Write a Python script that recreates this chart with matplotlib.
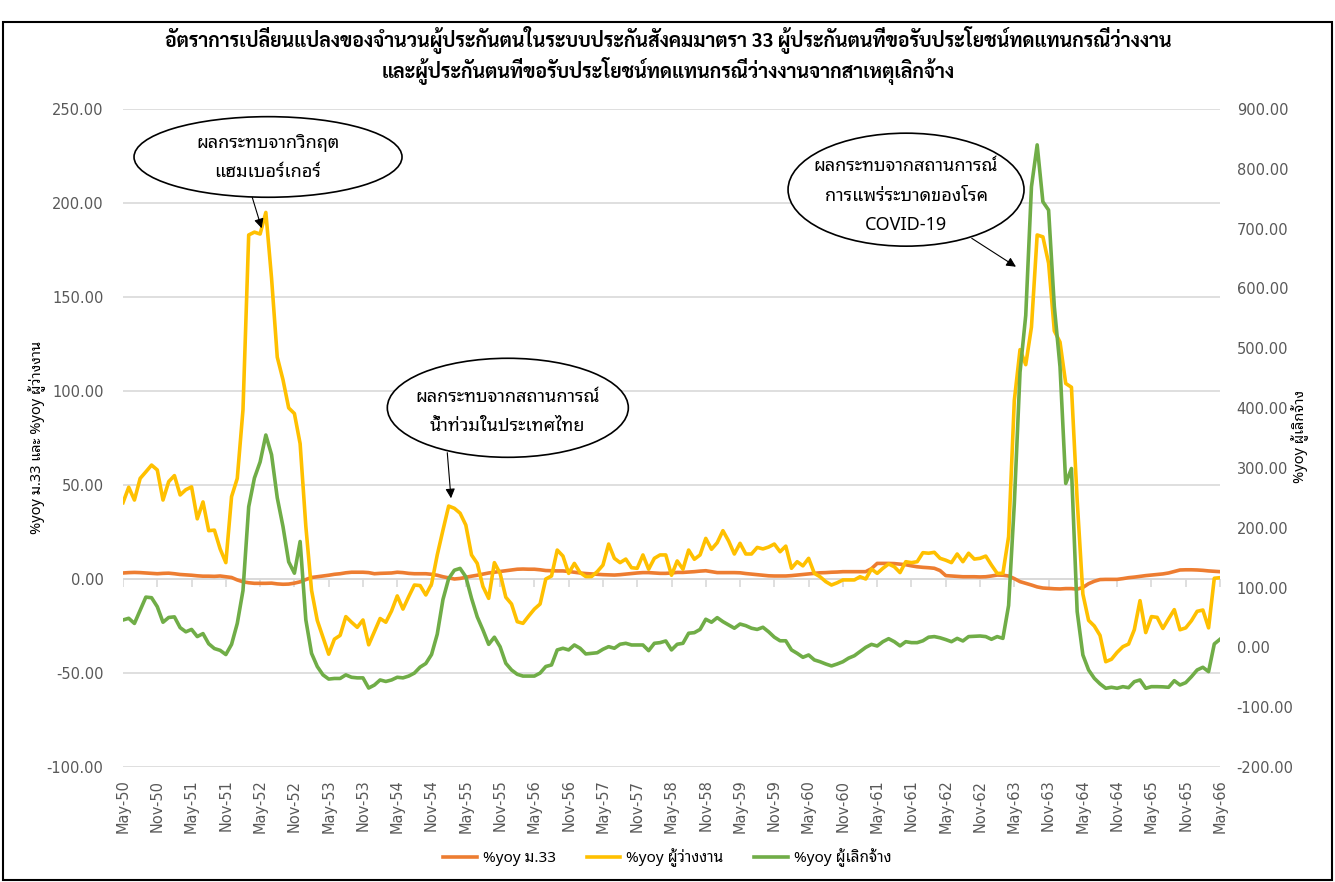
import matplotlib
matplotlib.use("Agg")
import numpy as np
import matplotlib.pyplot as plt
from matplotlib import font_manager as fm
from matplotlib.patches import Ellipse, Rectangle

# ---------------- fonts ----------------
installed = {f.name for f in fm.fontManager.ttflist}

def pick(cands):
    for c in cands:
        if c in installed:
            return c
    return "DejaVu Sans"

thai_font = pick(["Noto Sans Thai Looped", "Noto Sans Thai", "Sarabun", "Anuphan"])
title_font = pick(["Sarabun", "Noto Sans Thai Looped", "Noto Sans Thai", "Anuphan"])
THAI = [thai_font, "DejaVu Sans"]
TITLE = [title_font, "DejaVu Sans"]

# ---------------- data (monthly, May-50 .. May-66) ----------------
tick_labels = ["May-50", "Nov-50", "May-51", "Nov-51", "May-52", "Nov-52", "May-53", "Nov-53",
               "May-54", "Nov-54", "May-55", "Nov-55", "May-56", "Nov-56", "May-57", "Nov-57",
               "May-58", "Nov-58", "May-59", "Nov-59", "May-60", "Nov-60", "May-61", "Nov-61",
               "May-62", "Nov-62", "May-63", "Nov-63", "May-64", "Nov-64", "May-65", "Nov-65",
               "May-66"]

# %yoy ม.33 (left axis)
yoy_m33 = [
    3.2, 3.4, 3.5, 3.4, 3.2, 3.0, 2.8, 3.0, 3.1, 2.8, 2.4, 2.2,
    2.0, 1.7, 1.5, 1.5, 1.4, 1.6, 1.2, 0.8, -0.5, -1.5, -2.0, -2.3,
    -2.3, -2.3, -2.2, -2.6, -2.8, -2.7, -2.2, -1.5, -0.3, 0.8, 1.2, 1.6,
    2.0, 2.5, 2.8, 3.3, 3.6, 3.6, 3.6, 3.4, 2.8, 3.0, 3.1, 3.2,
    3.6, 3.4, 3.0, 2.8, 2.8, 2.8, 2.5, 2.0, 1.2, 0.6, 0.0, 0.3,
    0.9, 1.5, 2.0, 2.6, 3.2, 3.6, 4.0, 4.4, 4.8, 5.2, 5.3, 5.2,
    5.2, 4.9, 4.5, 4.4, 4.3, 4.3, 4.0, 3.6, 3.2, 2.9, 2.7, 2.5,
    2.3, 2.2, 2.1, 2.3, 2.6, 2.9, 3.2, 3.4, 3.4, 3.2, 3.0, 3.0,
    3.2, 3.5, 3.5, 3.7, 3.9, 4.2, 4.4, 3.9, 3.4, 3.4, 3.4, 3.4,
    3.3, 2.9, 2.6, 2.3, 2.0, 1.7, 1.6, 1.6, 1.6, 1.8, 2.1, 2.4,
    2.7, 3.0, 3.3, 3.4, 3.6, 3.7, 3.9, 3.9, 3.9, 3.9, 3.9, 5.5,
    8.3, 8.3, 8.3, 8.2, 7.9, 7.6, 7.0, 6.5, 6.2, 6.0, 5.7, 4.5,
    1.8, 1.6, 1.4, 1.2, 1.2, 1.2, 1.1, 1.2, 1.6, 2.1, 2.0, 1.6,
    0.2, -1.4, -2.3, -3.2, -4.2, -4.8, -5.0, -5.2, -5.3, -5.1, -5.1, -5.4,
    -4.5, -2.5, -1.2, -0.3, -0.2, -0.2, -0.2, 0.2, 0.7, 1.0, 1.4, 1.8,
    2.1, 2.4, 2.7, 3.2, 4.0, 4.8, 4.9, 4.9, 4.8, 4.6, 4.3, 4.1,
    3.9,
]

# %yoy ผู้ว่างงาน (left axis)
yoy_unemp = [
    40.6, 48.8, 42.0, 53.5, 57.0, 60.6, 58.0, 42.0, 51.8, 55.0, 44.7, 47.5,
    49.0, 32.0, 41.0, 25.7, 26.0, 16.0, 8.7, 43.8, 53.5, 90.0, 183.0, 184.5,
    183.5, 195.0, 160.0, 118.0, 106.0, 91.0, 88.0, 72.0, 28.0, -6.0, -22.0, -31.0,
    -40.0, -32.0, -30.0, -20.0, -23.0, -25.7, -21.8, -35.0, -28.0, -21.0, -23.0, -17.0,
    -9.0, -16.0, -9.4, -3.2, -3.5, -8.5, -2.7, 12.8, 26.0, 38.8, 37.6, 35.0,
    28.7, 12.8, 8.3, -4.0, -10.3, 8.7, 3.0, -9.7, -13.3, -22.7, -23.6, -19.7,
    -16.0, -13.3, 0.0, 1.6, 15.4, 12.2, 3.0, 8.3, 3.4, 1.3, 1.3, 3.9,
    7.4, 18.6, 11.0, 8.7, 10.6, 6.0, 5.7, 12.8, 5.2, 11.0, 12.8, 12.8,
    2.0, 9.6, 5.2, 15.4, 10.5, 12.8, 21.6, 15.8, 19.3, 25.7, 20.2, 13.3,
    19.0, 13.3, 13.3, 16.8, 16.0, 17.0, 18.6, 14.5, 17.5, 5.7, 9.2, 7.0,
    11.0, 3.0, 1.2, -1.4, -3.2, -2.0, -0.5, -0.5, -0.5, 1.2, 0.0, 5.3,
    3.0, 5.7, 8.0, 6.5, 3.4, 9.2, 8.7, 9.2, 14.0, 13.7, 14.2, 11.0,
    10.0, 8.7, 13.3, 9.2, 13.7, 10.6, 11.0, 12.2, 7.4, 3.0, 3.0, 22.5,
    95.0, 122.0, 114.0, 134.0, 183.0, 182.0, 168.0, 132.0, 126.0, 104.0, 102.0, 42.0,
    -8.0, -22.0, -25.0, -30.0, -44.0, -42.7, -39.0, -36.0, -34.6, -27.0, -11.5, -28.5,
    -20.0, -20.4, -26.3, -21.2, -16.3, -27.0, -26.0, -22.2, -17.2, -16.5, -26.0, 0.4,
    0.7,
]

# %yoy ผู้เลิกจ้าง (right axis)
yoy_layoff = [
    45.8, 48.6, 40.0, 62.0, 84.0, 83.0, 68.0, 42.0, 50.0, 51.0, 33.0, 26.0,
    30.0, 18.0, 23.0, 6.0, -2.0, -5.0, -12.0, 5.0, 40.0, 95.0, 235.0, 283.0,
    310.0, 355.0, 322.0, 250.0, 202.0, 143.0, 124.0, 177.0, 46.0, -10.0, -32.0, -46.0,
    -53.0, -52.0, -52.0, -46.0, -50.0, -51.0, -51.0, -68.0, -63.0, -54.5, -57.0, -54.5,
    -50.0, -51.0, -48.0, -43.0, -33.0, -27.0, -12.0, 22.0, 80.0, 115.0, 129.0, 132.0,
    118.0, 82.0, 51.0, 29.0, 5.0, 17.0, 1.0, -26.6, -37.8, -45.0, -48.0, -48.0,
    -48.0, -43.0, -32.0, -29.4, -4.3, -1.5, -4.3, 4.0, -1.5, -11.0, -10.0, -9.0,
    -3.2, 1.2, -1.5, 5.2, 6.8, 4.0, 4.0, 4.0, -5.5, 6.8, 7.9, 10.7,
    -4.3, 5.2, 6.8, 23.6, 24.6, 30.0, 47.0, 42.0, 49.7, 43.0, 37.5, 32.0,
    39.0, 36.3, 32.0, 30.0, 33.6, 26.0, 17.0, 11.0, 11.0, -4.3, -10.0, -16.6,
    -12.7, -21.0, -24.0, -27.8, -31.0, -27.8, -24.0, -18.0, -14.0, -7.0, 0.0, 5.0,
    2.3, 9.5, 14.5, 9.5, 2.5, 9.5, 7.9, 7.9, 11.0, 17.0, 18.0, 16.0,
    13.0, 9.5, 15.0, 10.7, 18.0, 18.5, 19.0, 18.0, 13.5, 18.0, 15.0, 70.0,
    240.0, 460.0, 555.0, 770.0, 840.0, 745.0, 731.0, 570.0, 469.0, 274.0, 299.0, 60.0,
    -12.7, -37.8, -51.7, -61.0, -68.4, -66.7, -68.4, -65.7, -67.4, -57.4, -54.5, -68.4,
    -65.7, -65.7, -66.0, -66.7, -55.7, -62.9, -59.0, -49.0, -37.8, -33.3, -40.6, 5.7,
    13.5,
]

c_m33 = "#ED7D31"
c_unemp = "#FFC000"
c_layoff = "#70AD47"
grey_txt = "#595959"
grid_c = "#D9D9D9"

months = np.arange(len(yoy_m33))
tick_pos = months[::6]

# ---------------- figure ----------------
fig = plt.figure(figsize=(13.35, 8.82), dpi=100)
ax = fig.add_axes([123 / 1335, 1 - 767 / 882, 1097 / 1335, 658 / 882])
ax2 = ax.twinx()

ax.set_ylim(-100, 250)
ax.set_yticks(np.arange(-100, 251, 50))
ax.set_yticklabels([f"{v:.2f}" for v in np.arange(-100, 251, 50)])
ax2.set_ylim(-200, 900)
ax2.set_yticks(np.arange(-200, 901, 100))
ax2.set_yticklabels([f"{v:.2f}" for v in np.arange(-200, 901, 100)])
ax.set_xlim(months[0], months[-1])
ax.set_xticks(tick_pos)
ax.set_xticklabels(tick_labels, rotation=90)

for a in (ax, ax2):
    for s in a.spines.values():
        s.set_visible(False)
ax.grid(axis="y", color=grid_c, lw=1.2)
ax.set_axisbelow(True)
ax.tick_params(axis="y", length=0, pad=14, labelsize=10.5, labelcolor=grey_txt)
ax2.tick_params(axis="y", length=0, pad=12, labelsize=10.5, labelcolor=grey_txt)
ax.tick_params(axis="x", length=0, pad=9, labelsize=10.5, labelcolor=grey_txt)

# horizontal axis line at zero with small tick marks
ax.axhline(0, color=grid_c, lw=1.2, zorder=1)
ax.plot(tick_pos, np.zeros(len(tick_pos)), ls="none", marker=3, ms=6, mew=1.2,
        color=grid_c, zorder=1)

l1, = ax.plot(months, yoy_m33, color=c_m33, lw=2.6, label="%yoy ม.33", zorder=3)
l2, = ax.plot(months, yoy_unemp, color=c_unemp, lw=2.6, label="%yoy ผู้ว่างงาน", zorder=3)
l3, = ax2.plot(months, yoy_layoff, color=c_layoff, lw=2.6, label="%yoy ผู้เลิกจ้าง", zorder=3)

# ---------------- annotations ----------------
callouts = [
    # ellipse centre / size in axes fraction, text lines and their y, arrow start and tip
    ((0.1322, 0.9271), 0.2443, 0.1225,
     ["ผลกระทบจากวิกฤต", "แฮมเบอร์เกอร์"], [0.948, 0.905],
     (0.1178, 0.8658), (0.1264, 0.8188)),
    ((0.3508, 0.5459), 0.2197, 0.1505,
     ["ผลกระทบจากสถานการณ์", "น้ำท่วมในประเทศไทย"], [0.563, 0.518],
     (0.2956, 0.4777), (0.2990, 0.4084)),
    ((0.7138, 0.8774), 0.2151, 0.1717,
     ["ผลกระทบจากสถานการณ์", "การแพร่ระบาดของโรค", "COVID-19"], [0.914, 0.868, 0.823],
     (0.7737, 0.8035), (0.8140, 0.7603)),
]
for (cx, cy), w, h, lines, ys, a0, a1 in callouts:
    ax2.add_patch(Ellipse((cx, cy), w, h, transform=ax2.transAxes, facecolor="white",
                          edgecolor="black", lw=1.2, zorder=10))
    for t, yy in zip(lines, ys):
        ax2.text(cx, yy, t, transform=ax2.transAxes, ha="center", va="center",
                 fontsize=13, family=THAI, color="black", zorder=11)
    ax2.annotate("", xy=a1, xycoords="axes fraction", xytext=a0, textcoords="axes fraction",
                 arrowprops=dict(arrowstyle="-|>", color="black", lw=0.8,
                                 mutation_scale=14, shrinkA=0, shrinkB=0), zorder=11)

# ---------------- titles, labels, legend ----------------
fig.text(0.5004, 1 - 40 / 882,
         "อัตราการเปลี่ยนแปลงของจำนวนผู้ประกันตนในระบบประกันสังคมมาตรา 33 ผู้ประกันตนที่ขอรับประโยชน์ทดแทนกรณีว่างงาน",
         ha="center", va="center", fontsize=14, fontweight="bold", family=TITLE)
fig.text(0.5004, 1 - 71 / 882,
         "และผู้ประกันตนที่ขอรับประโยชน์ทดแทนกรณีว่างงานจากสาเหตุเลิกจ้าง",
         ha="center", va="center", fontsize=14, fontweight="bold", family=TITLE)

fig.text(37 / 1335, 1 - 437 / 882, "%yoy ม.33 และ %yoy ผู้ว่างงาน", rotation=90,
         ha="center", va="center", fontsize=10.5, family=THAI)
fig.text(1300 / 1335, 1 - 437 / 882, "%yoy ผู้เลิกจ้าง", rotation=90,
         ha="center", va="center", fontsize=10.5, family=THAI)

fig.legend(handles=[l1, l2, l3], loc="center", bbox_to_anchor=(0.5, 1 - 858 / 882),
           ncol=3, frameon=False, prop={"family": THAI, "size": 11},
           handlelength=2.2, handletextpad=0.4, columnspacing=2.0)

# chart border
fig.patches.append(Rectangle((0.0025, 0.002), 0.995, 0.973, transform=fig.transFigure,
                             fill=False, edgecolor="black", lw=1.5))

fig.savefig("out.png", dpi=100)
